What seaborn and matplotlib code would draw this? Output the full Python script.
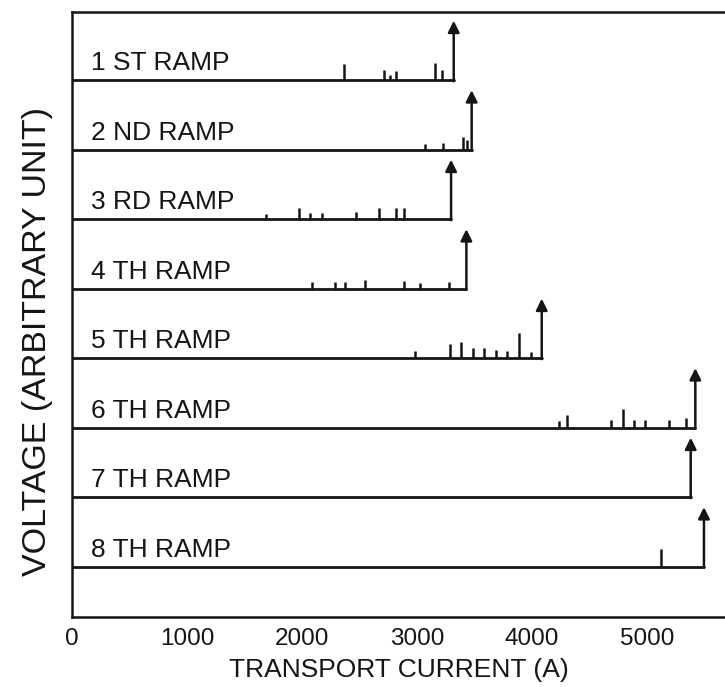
import numpy as np
import pandas as pd
import seaborn as sns
import matplotlib
matplotlib.use("Agg")
import matplotlib.pyplot as plt

# Ramp names, quench currents (A) and small voltage spikes seen during each ramp
ramps = ["1 ST RAMP", "2 ND RAMP", "3 RD RAMP", "4 TH RAMP",
         "5 TH RAMP", "6 TH RAMP", "7 TH RAMP", "8 TH RAMP"]
quench_current = [3320, 3476, 3297, 3430, 4085, 5420, 5380, 5495]

spike_current = [
    [2370, 2717, 2766, 2816, 3160, 3221],
    [3071, 3230, 3398, 3433],
    [1685, 1974, 2073, 2173, 2471, 2674, 2818, 2884],
    [2084, 2287, 2379, 2545, 2884, 3031, 3282],
    [2984, 3288, 3383, 3485, 3583, 3688, 3786, 3888, 3992],
    [4238, 4302, 4687, 4789, 4890, 4983, 5188, 5336],
    [],
    [5119],
]
spike_voltage = [
    [2.4, 1.45, 0.8, 1.3, 2.45, 1.55],
    [0.8, 0.95, 1.9, 1.45],
    [0.85, 1.6, 0.95, 0.95, 1.1, 1.7, 1.7, 1.7],
    [1.05, 0.95, 1.05, 1.3, 1.2, 0.8, 1.05],
    [1.1, 2.05, 2.4, 1.45, 1.45, 1.2, 1.05, 3.6, 0.95],
    [0.95, 1.9, 1.2, 2.75, 1.1, 1.1, 1.1, 1.45],
    [],
    [2.6],
]
quench_jump = 8.6          # height of the quench arrow (arbitrary unit)
trace_spacing = 10.0       # vertical offset between successive ramps
x_ticks = [0, 1000, 2000, 3000, 4000, 5000]

sns.set_style("white")
plt.rcParams["font.family"] = ["Liberation Sans", "DejaVu Sans"]

ink = "#151515"
fig = plt.figure(figsize=(7.25, 6.87), dpi=100)
ax = fig.add_axes([0.099, 0.102, 0.901, 0.881])

n = len(ramps)
offsets = [(n - 1 - i) * trace_spacing for i in range(n)]

# baseline of each trace, from zero current up to the quench current
base = pd.DataFrame({
    "current": np.ravel([[0, q] for q in quench_current]),
    "voltage": np.repeat(offsets, 2),
    "ramp": np.repeat(ramps, 2),
})
sns.lineplot(data=base, x="current", y="voltage", units="ramp",
             estimator=None, sort=False, color=ink, lw=2.0, ax=ax,
             legend=False)

for i in range(n):
    y0 = offsets[i]
    if spike_current[i]:
        ax.vlines(spike_current[i], y0, np.array(spike_voltage[i]) + y0,
                  color=ink, lw=1.8)
    ax.annotate("", xy=(quench_current[i], y0 + quench_jump),
                xytext=(quench_current[i], y0 - 0.1),
                arrowprops=dict(arrowstyle="-|>", color=ink, lw=1.8,
                                mutation_scale=17, shrinkA=0, shrinkB=0))
    ax.text(165, y0 + 1.45, ramps[i], fontsize=19, color=ink,
            ha="left", va="baseline")

ax.set_xlim(0, 5678)
ax.set_ylim(-7.2, 79.9)
ax.set_xticks(x_ticks)
ax.set_xticklabels([str(t) for t in x_ticks], fontsize=17.5, color=ink)
ax.set_yticks([])
ax.tick_params(axis="x", direction="in", length=11.5, width=1.0,
               color=ink, pad=8)
for side in ["left", "bottom", "top"]:
    ax.spines[side].set_color(ink)
    ax.spines[side].set_linewidth(1.8)
ax.spines["right"].set_visible(False)

ax.set_xlabel("TRANSPORT CURRENT (A)", fontsize=19, color=ink, labelpad=6)
ax.set_ylabel("VOLTAGE (ARBITRARY UNIT)", fontsize=24.5, color=ink)
ax.yaxis.set_label_coords(-0.029, 0.455)

fig.savefig("out.png", dpi=100)
